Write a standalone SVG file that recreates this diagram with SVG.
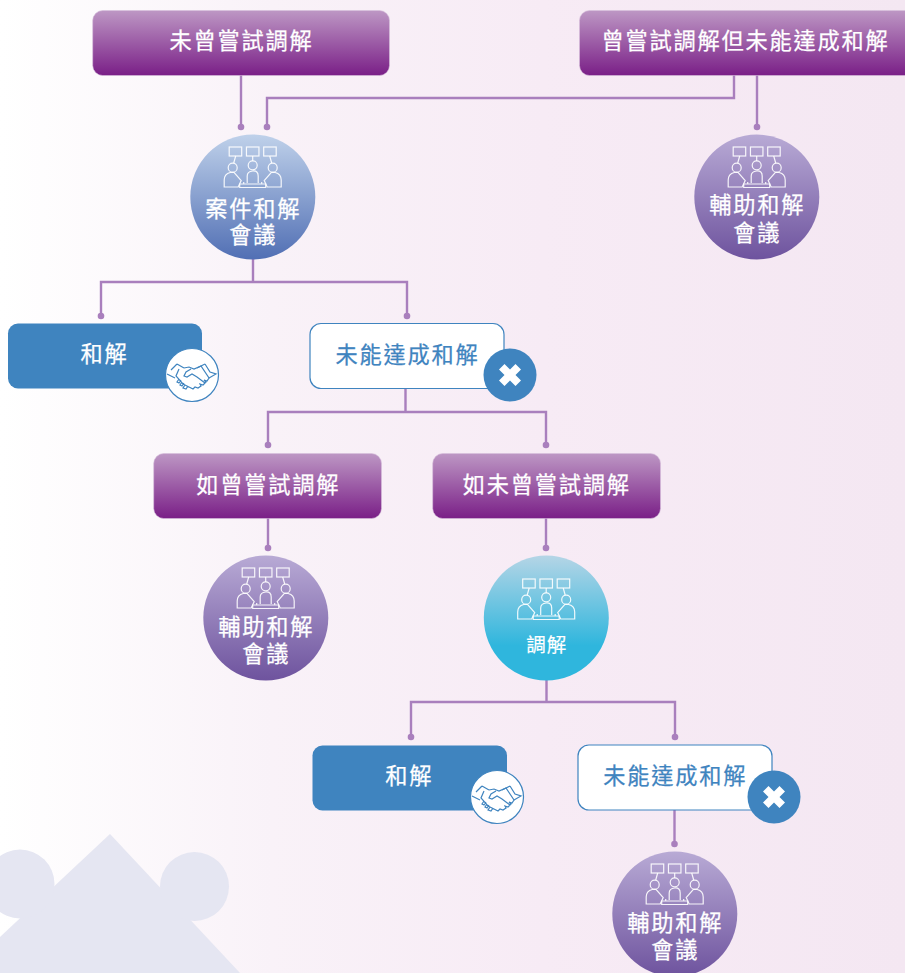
<svg xmlns="http://www.w3.org/2000/svg" width="905" height="973" viewBox="0 0 905 973">
<style>
text{font-family:"Noto Sans CJK TC","Noto Sans CJK SC",sans-serif;text-anchor:middle;font-weight:400}
.t{font-size:22.200px;letter-spacing:1.800px;fill:#fff;stroke:#fff;stroke-width:.25}
.b{font-size:22.200px;letter-spacing:1.800px;fill:#3f84bf;stroke:#3f84bf;stroke-width:.25}
.s{font-size:19.500px;letter-spacing:1px;fill:#fff;stroke:#fff;stroke-width:.2}
.c{fill:none;stroke:#a97fbd;stroke-width:2.400}
.d{fill:#a97fbd}
.ic{fill:none;stroke:#fff;stroke-width:1.200;stroke-opacity:.9}
.hs{fill:none;stroke:#3f84bf;stroke-width:1.200}
.w{fill:#fff;stroke:#3f84bf;stroke-width:1.200}
.bl{fill:#3f84bf}
.pr{fill:url(#gp);stroke:#d7bfdc;stroke-width:.6}
</style>
<defs>
<linearGradient id="bg" x1="0" y1="0" x2="1" y2="0"><stop offset="0" stop-color="#fff"/><stop offset=".3" stop-color="#f9f2f8"/><stop offset=".6" stop-color="#f7ebf5"/><stop offset="1" stop-color="#f4e7f2"/></linearGradient>
<linearGradient id="gp" x1="0" y1="0" x2="0" y2="1"><stop offset="0" stop-color="#bd97c4"/><stop offset="1" stop-color="#7a1f87"/></linearGradient>
<linearGradient id="gb" x1="0" y1="0" x2="0" y2="1"><stop offset="0" stop-color="#bfd1ea"/><stop offset="1" stop-color="#516fb4"/></linearGradient>
<linearGradient id="gv" x1="0" y1="0" x2="0" y2="1"><stop offset="0" stop-color="#b8aad5"/><stop offset="1" stop-color="#6e539e"/></linearGradient>
<linearGradient id="gt" x1="0" y1="0" x2="0" y2="1"><stop offset="0" stop-color="#b5d5e6"/><stop offset=".72" stop-color="#2fb6dd"/><stop offset="1" stop-color="#2fb6dd"/></linearGradient>
<g id="meet" class="ic">
<rect x="-23.500" y="0" width="12.500" height="9"/><rect x="-6.250" y="0" width="12.500" height="9"/><rect x="11" y="0" width="12.500" height="9"/>
<path d="M-17 9l-2 7M0 9v5M17 9l2 7"/>
<circle cx="-20" cy="20.700" r="4.500"/><circle cx="0" cy="18.300" r="4.500"/><circle cx="20" cy="20.700" r="4.500"/>
<path d="M-28.500 40V33q0-6 6-7.500h4l7 8-3 6.500zM28.500 40V33q0-6-6-7.500h-4l-7 8 3 6.500z"/>
<path d="M-5.500 36V29q0-4.500 5.500-5t5.500 5v7"/>
<path d="M-13 37h26v3.500h-26zM-9 37v-2M9 37v-2"/>
</g>
<g id="shake" class="hs">
<path d="M-15-11l7 4M-25-1l8 4M-15-11l-6 6M13-11l-8 4M13-11l5 8 6 2-7 4"/>
<path d="M-8-7l5-1 5 2 7-3 8 12-2 3-3-1 2 2-3 3-3-1 1 2-3 2-3-1-2 2-4-2-6-3-7-8 3-7M-1-6l-5 3-2 4 3 1 5-3 5 3 8 6M-13 4l-2 3 2 1 2-3M-10 7l-2 3 2 1 2-3M-7 10l-2 3 3 1 2-3"/>
</g>
<path id="x" d="M-5.500-11L0-5.500 5.500-11 11-5.500 5.500 0 11 5.500 5.500 11 0 5.500-5.500 11-11 5.500-5.500 0-11-5.500z" fill="#fff"/>
</defs>

<rect id="background" width="905" height="973" fill="url(#bg)"/>
<g id="decor" fill="#e5e6f2">
<path d="M110 834L0 937V973H240Z"/>
<circle cx="20" cy="884" r="34.500"/>
<circle cx="194.500" cy="886.500" r="34.500"/>
</g>

<g id="connectors">
<path class="c" d="M241 75V127M734 75V98H267V127M757 75V127"/>
<path class="c" d="M253 259V282M101 316V282H407V316"/>
<path class="c" d="M405.500 388V412M268 445V412H546V445"/>
<path class="c" d="M268 518V548M546 518V548"/>
<path class="c" d="M546.500 680V702M411 737V702H675V737"/>
<path class="c" d="M674.500 810V844"/>
<g class="d">
<circle cx="241" cy="127" r="3.300"/><circle cx="267" cy="127" r="3.300"/><circle cx="757" cy="127" r="3.300"/>
<circle cx="101" cy="316" r="3.300"/><circle cx="407" cy="316" r="3.300"/>
<circle cx="268" cy="445" r="3.300"/><circle cx="546" cy="445" r="3.300"/>
<circle cx="268" cy="548" r="3.300"/><circle cx="546" cy="548" r="3.300"/>
<circle cx="411" cy="737" r="3.300"/><circle cx="675" cy="737" r="3.300"/>
<circle cx="674.500" cy="844" r="3.300"/>
</g>
</g>

<g id="n1"><rect class="pr" x="92.700" y="10.500" width="296.800" height="65" rx="10"/><text class="t" x="241.500" y="49">未曾嘗試調解</text></g>
<g id="n2"><rect class="pr" x="579.500" y="10.500" width="340" height="65" rx="10"/><text class="t" x="745.500" y="49">曾嘗試調解但未能達成和解</text></g>

<g id="n3"><circle cx="252.800" cy="197" r="62.500" fill="url(#gb)"/><use href="#meet" x="252.700" y="147"/><text class="t"><tspan x="253.300" y="217">案件和解</tspan><tspan x="253.300" y="243">會議</tspan></text></g>
<g id="n4"><circle cx="756.800" cy="197" r="62.500" fill="url(#gv)"/><use href="#meet" x="756.700" y="147"/><text class="t"><tspan x="757.300" y="213">輔助和解</tspan><tspan x="757.300" y="241">會議</tspan></text></g>

<g id="n5"><rect class="bl" x="8" y="323.500" width="194" height="65" rx="10"/><text class="t" x="104.500" y="362">和解</text><circle class="w" cx="192" cy="375" r="26.500"/><use href="#shake" x="192" y="375"/></g>
<g id="n6"><rect class="w" x="310" y="323.500" width="194" height="65" rx="11"/><text class="b" x="407.500" y="363">未能達成和解</text><circle class="bl" cx="510" cy="375" r="26.500"/><use href="#x" x="510" y="375"/></g>

<g id="n7"><rect class="pr" x="153.700" y="453.500" width="227.800" height="65" rx="10"/><text class="t" x="268.300" y="493">如曾嘗試調解</text></g>
<g id="n8"><rect class="pr" x="432.700" y="453.500" width="227.800" height="65" rx="10"/><text class="t" x="546.800" y="493">如未曾嘗試調解</text></g>

<g id="n9"><circle cx="265.800" cy="618" r="62.500" fill="url(#gv)"/><use href="#meet" x="265.700" y="568"/><text class="t"><tspan x="266.300" y="635">輔助和解</tspan><tspan x="266.300" y="662">會議</tspan></text></g>
<g id="n10"><circle cx="546.300" cy="618" r="62.500" fill="url(#gt)"/><use href="#meet" x="546.200" y="579"/><text class="s" x="546.800" y="652">調解</text></g>

<g id="n11"><rect class="bl" x="312.500" y="745.500" width="194.500" height="65" rx="10"/><text class="t" x="409.300" y="784">和解</text><circle class="w" cx="497" cy="797" r="26.500"/><use href="#shake" x="497" y="797"/></g>
<g id="n12"><rect class="w" x="578" y="745" width="194" height="65" rx="11"/><text class="b" x="675.300" y="784">未能達成和解</text><circle class="bl" cx="774" cy="797" r="26.500"/><use href="#x" x="774" y="797"/></g>

<g id="n13"><circle cx="674.800" cy="914" r="62.500" fill="url(#gv)"/><use href="#meet" x="674.700" y="864"/><text class="t"><tspan x="675.300" y="931">輔助和解</tspan><tspan x="675.300" y="958">會議</tspan></text></g>
</svg>
